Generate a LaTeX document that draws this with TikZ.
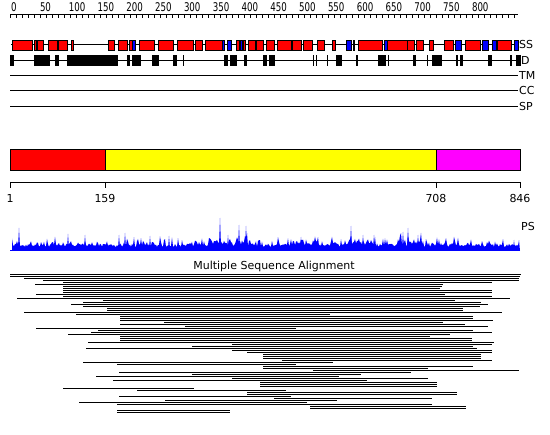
\documentclass[tikz,border=0pt]{standalone}
\usepackage{fontspec}
\setmainfont{DejaVu Sans}
\newfontfamily\narrowfont[FakeStretch=0.72]{DejaVu Sans}
\usetikzlibrary{positioning}
\definecolor{ssred}{RGB}{255,0,0}
\definecolor{ssblue}{RGB}{0,0,255}
\definecolor{domyellow}{RGB}{255,255,0}
\definecolor{dommagenta}{RGB}{255,0,255}
\definecolor{psblue}{RGB}{0,0,255}

\begin{document}
\begin{tikzpicture}[x=1pt,y=-1pt,
  % plain horizontal tracks
  track/.style={draw=black,line width=1pt},
  % secondary structure elements
  helix/.style={draw=black,fill=ssred,line width=0.8pt},
  strand/.style={draw=black,fill=ssblue,line width=0.8pt},
  disorder/.style={fill=black},
  % text
  rowlabel/.style={anchor=west,inner sep=0pt,font=\fontsize{11}{11}\selectfont},
  ticklabel/.style={anchor=base west,inner sep=0pt,font=\narrowfont\fontsize{12}{12}\selectfont},
  domlabel/.style={anchor=base,inner sep=0pt,font=\fontsize{11}{11}\selectfont},
  dombox/.style={draw=black,line width=1pt},
  msa/.style={draw=black,line width=1pt}
]
  \useasboundingbox[fill=white] (0,0) rectangle (550,435);

  % ---- Residue ruler ----
  \draw[track] (10,15) -- (518,15);
  \foreach \r in {0,10,...,840}
    \draw[line width=1pt] ({10+0.6*\r},15) -- ({10+0.6*\r},18);
  \foreach \r in {0,50,...,800}
    \node[ticklabel] (lab\r) at ({11+0.576*\r},12) {\r};

  % ---- SS track ----
  \draw[track] (11,45) -- (518,45);
  \foreach \a/\b in {12/32,34/36,37/43,48/57,58/67,71/73,108/114,118/127,
                     129/132,139/154,158/173,177/193,195/202,205/222,236/239,
                     243/245,248/255,256/263,266/274,277/291,292/301,303/312,
                     317/324,332/335,353/354,358/382,387/407,407/414,416/423,
                     429/433,444/453,465/480,497/511}
    \filldraw[helix] (\a,40) rectangle (\b,50);
  \foreach \a/\b in {132/135,222/224,227/231,240/242,346/351,384/387,
                     455/461,482/488,492/496,514/518}
    \filldraw[strand] (\a,40) rectangle (\b,50);
  \node[rowlabel] (ss) at (519,45) {SS};

  % ---- Disorder track ----
  \draw[track] (10,60.5) -- (518,60.5);
  \foreach \a/\b in {10/14,34/50,55/59,67/118,127/130,132/141,152/159,173/177,
                     183/184,224/228,230/237,244/247,263/267,269/275,313/314,
                     316/317,327/328,336/342,356/358,378/386,388/389,413/416,
                     427/428,432/442,456/458,460/463,488/492,510/512,516/521}
    \fill[disorder] (\a,55) rectangle (\b,66);
  \node[rowlabel] (dis) at (521,60.5) {D};

  % ---- Empty tracks ----
  \draw[track] (10,75.5) -- (518,75.5);
  \node[rowlabel] (tm) at (519,75.5) {TM};
  \draw[track] (10,91) -- (518,91);
  \node[rowlabel] (cc) at (519,91) {CC};
  \draw[track] (10,106.5) -- (518,106.5);
  \node[rowlabel] (sp) at (519,106.5) {SP};

  % ---- Domain bar ----
  \filldraw[dombox,fill=ssred]      (10,150)  rectangle (105,171);
  \filldraw[dombox,fill=domyellow]  (105,150) rectangle (436,171);
  \filldraw[dombox,fill=dommagenta] (436,150) rectangle (520,171);

  \draw[track] (10,183) -- (520,183);
  \foreach \x/\r in {10/1,105/159,436/708,520/846}{
    \draw[line width=1pt] (\x,182) -- (\x,188);
    \node[domlabel] (dom\r) at (\x,203) {\r};
  }

  % ---- PS profile ----
  \pgfmathsetseed{11}
  \fill[psblue] (12,251)
    \foreach \x [evaluate=\x as \h using {4+3*rnd+8*rnd^4+5*rnd*((\x>290)*(\x<318)+(\x>344)*(\x<376)+(\x>396)*(\x<422)+(\x>208)*(\x<254))}]
      in {12,...,519} { -- (\x,251-\h) }
    -- (520,251) -- cycle;
  \foreach \px/\py in {19/228,68/234,85/235,119/235,125/233,150/236,169/236,
                       220/218,228/235,239/225,246/226,301/237,351/226,
                       363/235,374/235,403/232,408/228,418/235,514/240}
    \fill[psblue] (\px-1.2,251) -- (\px,\py) -- (\px+1.2,251) -- cycle;
  \draw[psblue,line width=1pt] (10,251) -- (520,251);
  \node[rowlabel] (ps) at (521,226) {PS};

  % ---- Alignment ----
  \node[inner sep=0pt,font=\fontsize{11}{11}\selectfont] (msatitle) at (274,266) {Multiple Sequence Alignment};
  \foreach \y/\a/\b in {275/10/521,277/10/520,279/24/519,281/43/519,283/63/492,
      285/35/443,287/63/442,289/63/440,291/63/492,293/63/492,295/36/445,
      297/63/492,299/17/510,301/103/455,303/83/481,305/71/488,307/83/480,
      309/107/463,311/107/463,313/24/502,315/76/330,317/120/473,319/120/473,
      321/120/493,323/164/443,325/120/465,327/185/488,329/36/296,331/98/473,
      333/91/492,335/68/450,337/120/430,339/120/472,341/120/472,343/88/494,
      345/232/492,347/192/473,349/86/477,351/232/492,353/247/492,355/263/481,
      357/263/481,359/263/481,361/282/492,363/83/333,365/117/296,367/263/473,
      369/263/428,371/313/519,373/119/411,375/192/361,377/96/339,379/232/428,
      381/113/367,383/260/437,385/260/437,387/260/437,389/63/194,391/137/286,
      393/247/457,395/247/457,397/119/291,399/274/432,401/165/337,403/79/307,
      405/117/432,407/310/466,409/310/466,411/117/230,413/117/230}
    \draw[msa] (\a,\y) -- (\b,\y);
\end{tikzpicture}
\end{document}
